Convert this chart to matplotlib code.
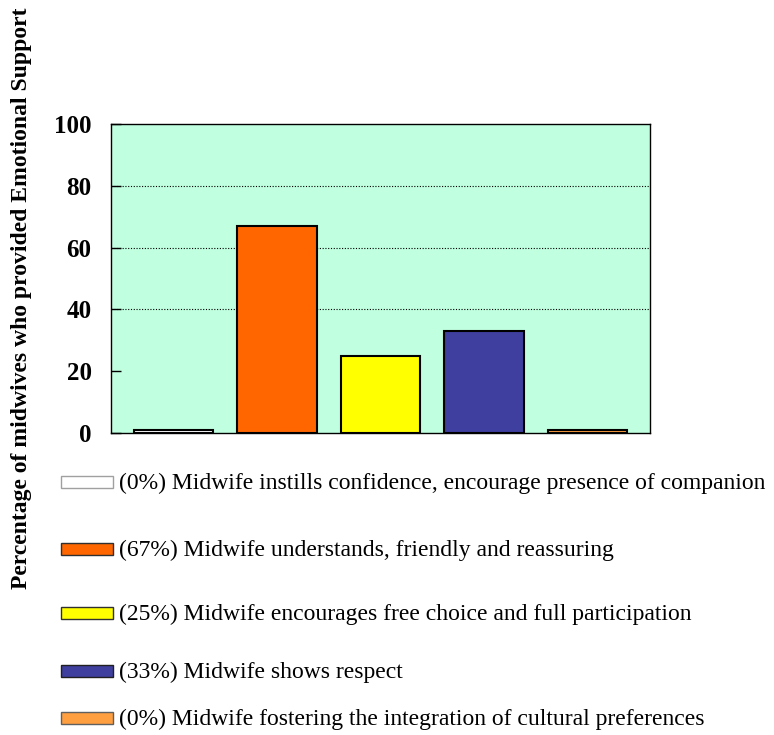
import matplotlib
matplotlib.use("Agg")
import matplotlib.pyplot as plt
from matplotlib.patches import Rectangle

# Emotional support categories
labels = [
    "Midwife instills confidence, encourage presence of companion",
    "Midwife understands, friendly and reassuring",
    "Midwife encourages free choice and full participation",
    "Midwife shows respect",
    "Midwife fostering the integration of cultural preferences",
]
percent = [0, 67, 25, 33, 0]
colors = ["#FFFFFF", "#FF6600", "#FFFF00", "#3F3F9F", "#FF9F40"]
key_edges = ["#A0A0A0", "#303030", "#303030", "#202020", "#606060"]
yticks = [0, 20, 40, 60, 80, 100]
grid_levels = [40, 60, 80]

plt.rcParams["font.family"] = ["Liberation Serif", "DejaVu Serif"]

fig = plt.figure(figsize=(7.74, 7.35), dpi=100)
W, H = 774, 735
ax = fig.add_axes([111 / W, 1 - 433 / H, (650 - 111) / W, (433 - 124) / H])
ax.set_facecolor("#C0FFE0")

x = list(range(len(percent)))
# keep zero-valued categories visible as a thin sliver
heights = [max(v, 1) for v in percent]
ax.bar(x, heights, width=0.77, color=colors, edgecolor="black", linewidth=1.5, zorder=3)

for g in grid_levels:
    ax.axhline(g, color="black", linestyle=(0, (1, 1.5)), linewidth=0.8, zorder=1)

ax.set_xlim(-0.606, 4.606)
ax.set_ylim(0, 100)
ax.set_yticks(yticks)
ax.set_yticklabels([str(t) for t in yticks], fontsize=18, fontweight="bold")
ax.set_xticks([])
ax.tick_params(axis="y", direction="in", length=7, width=1, pad=14)
for s in ax.spines.values():
    s.set_linewidth(1.0)
    s.set_color("black")

fig.text(22 / W, 1 - 298 / H,
         "Percentage of midwives who provided Emotional Support",
         rotation=90, ha="center", va="center", fontsize=17, fontweight="bold")

# legend rows drawn below the plot
row_y = [482, 549, 613, 671, 718]
for yy, p, lab, c, e in zip(row_y, percent, labels, colors, key_edges):
    fig.patches.append(Rectangle((61 / W, 1 - (yy + 6) / H), 52 / W, 12 / H,
                                 transform=fig.transFigure, facecolor=c,
                                 edgecolor=e, linewidth=1.0))
    fig.text(119 / W, 1 - (yy + 1) / H, f"({p}%) {lab}", ha="left", va="center",
             fontsize=17)

fig.savefig("out.png", dpi=100)
